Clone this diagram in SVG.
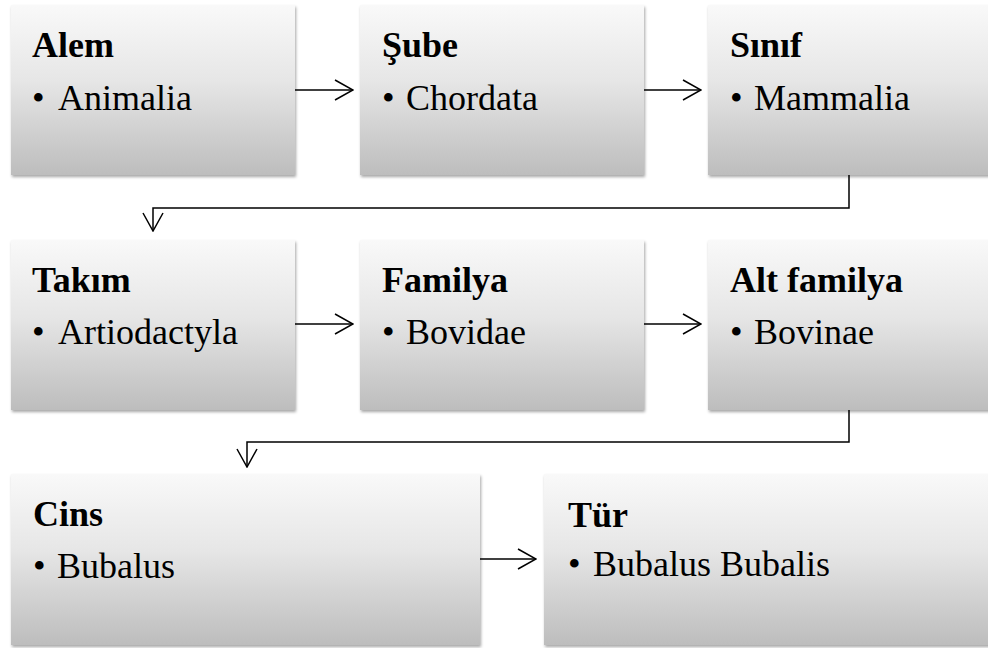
<svg xmlns="http://www.w3.org/2000/svg" width="988" height="648" viewBox="0 0 988 648">
  <defs>
    <linearGradient id="g" x1="0" y1="0" x2="0" y2="1">
      <stop offset="0" stop-color="#f9f9f9"/>
      <stop offset="0.45" stop-color="#e6e6e6"/>
      <stop offset="1" stop-color="#bdbdbd"/>
    </linearGradient>
    <filter id="sh" x="-5%" y="-5%" width="110%" height="115%">
      <feDropShadow dx="1" dy="2" stdDeviation="1.8" flood-color="#000" flood-opacity="0.35"/>
    </filter>
    <marker id="ah" viewBox="0 0 20 22" refX="19" refY="11" markerWidth="20" markerHeight="22" markerUnits="userSpaceOnUse" orient="auto">
      <path d="M1,1 L19,11 L1,21" fill="none" stroke="#000" stroke-width="1.5"/>
    </marker>
  </defs>
  <style>
    .box { fill: url(#g); filter: url(#sh); }
    .t { font-family: "Liberation Serif", "Times New Roman", serif; font-size: 36px; font-weight: bold; fill: #000; }
    .b { font-family: "Liberation Serif", "Times New Roman", serif; font-size: 36px; fill: #000; }
    .c { fill: none; stroke: #000; stroke-width: 1.5; }
  </style>
  <rect width="988" height="648" fill="#fff"/>

  <g id="connectors">
    <path class="c" d="M295,90 H353" marker-end="url(#ah)"/>
    <path class="c" d="M644,90 H701" marker-end="url(#ah)"/>
    <path class="c" d="M849,175 V208 H153 V231" marker-end="url(#ah)"/>
    <path class="c" d="M295,324 H353" marker-end="url(#ah)"/>
    <path class="c" d="M644,324 H701" marker-end="url(#ah)"/>
    <path class="c" d="M849,410 V442 H247 V467" marker-end="url(#ah)"/>
    <path class="c" d="M480,559 H536" marker-end="url(#ah)"/>
  </g>

  <g id="alem">
    <rect class="box" x="11" y="5" width="284" height="170"/>
    <text class="t" x="32" y="57">Alem</text>
    <text class="b" y="110"><tspan x="32">•</tspan><tspan x="58">Animalia</tspan></text>
  </g>
  <g id="sube">
    <rect class="box" x="360" y="5" width="284" height="170"/>
    <text class="t" x="382" y="57">Şube</text>
    <text class="b" y="110"><tspan x="382">•</tspan><tspan x="406">Chordata</tspan></text>
  </g>
  <g id="sinif">
    <rect class="box" x="708" y="5" width="284" height="170"/>
    <text class="t" x="730" y="57">Sınıf</text>
    <text class="b" y="110"><tspan x="730">•</tspan><tspan x="754">Mammalia</tspan></text>
  </g>

  <g id="takim">
    <rect class="box" x="11" y="240" width="284" height="170"/>
    <text class="t" x="32" y="292">Takım</text>
    <text class="b" y="344"><tspan x="32">•</tspan><tspan x="58">Artiodactyla</tspan></text>
  </g>
  <g id="familya">
    <rect class="box" x="360" y="240" width="284" height="170"/>
    <text class="t" x="382" y="292">Familya</text>
    <text class="b" y="344"><tspan x="382">•</tspan><tspan x="406">Bovidae</tspan></text>
  </g>
  <g id="altfamilya">
    <rect class="box" x="708" y="240" width="284" height="170"/>
    <text class="t" x="730" y="292">Alt familya</text>
    <text class="b" y="344"><tspan x="730">•</tspan><tspan x="754">Bovinae</tspan></text>
  </g>

  <g id="cins">
    <rect class="box" x="11" y="474" width="469" height="171"/>
    <text class="t" x="33" y="526">Cins</text>
    <text class="b" y="578"><tspan x="33">•</tspan><tspan x="57">Bubalus</tspan></text>
  </g>
  <g id="tur">
    <rect class="box" x="544" y="474" width="448" height="171"/>
    <text class="t" x="568" y="527">Tür</text>
    <text class="b" y="576"><tspan x="568">•</tspan><tspan x="593">Bubalus Bubalis</tspan></text>
  </g>
</svg>
